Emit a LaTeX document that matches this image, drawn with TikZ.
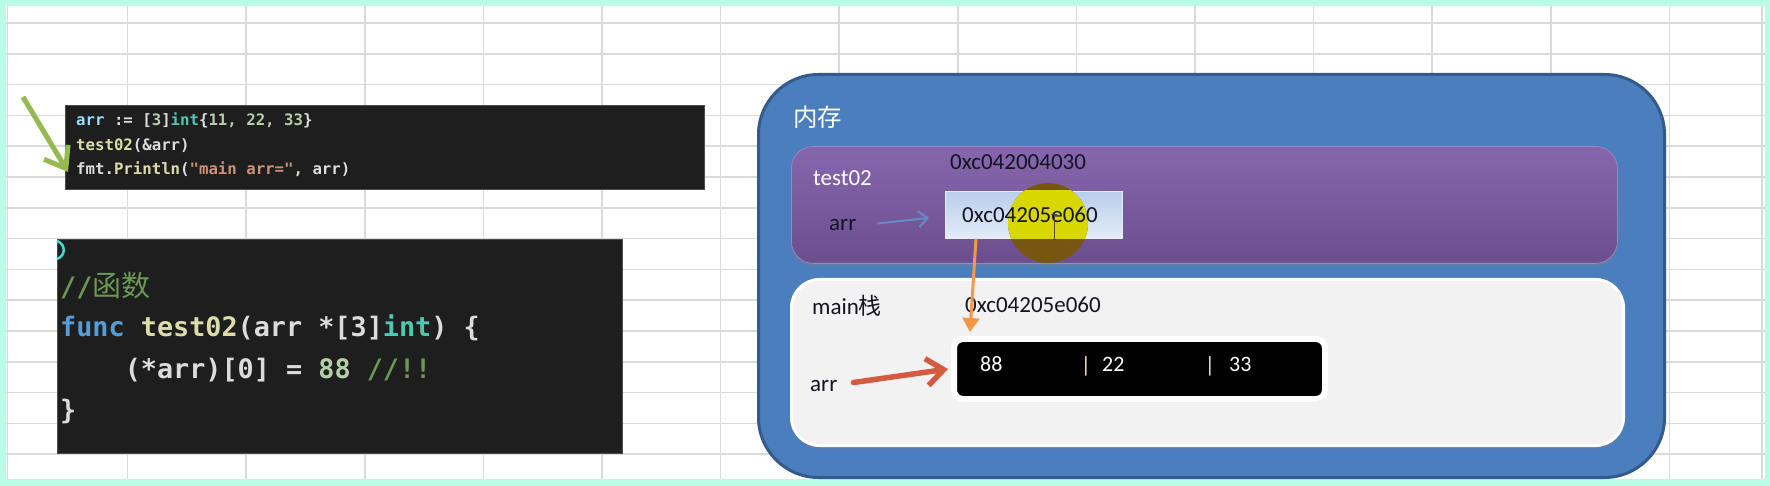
\documentclass[tikz,border=0pt]{standalone}
\usepackage{fontspec}
\setmainfont{Carlito}
\newfontfamily\cjk{Noto Sans CJK SC}
\newfontfamily\codefont{DejaVu Sans Mono}
\usetikzlibrary{arrows.meta,shadows,calc}

\definecolor{cyanbg}{RGB}{186,252,230}
\definecolor{gridc}{RGB}{218,218,218}
\definecolor{codebg}{RGB}{30,30,30}
\definecolor{codeedge}{RGB}{75,75,75}
\definecolor{cwhite}{RGB}{220,220,220}
\definecolor{cvar}{RGB}{156,220,254}
\definecolor{cfun}{RGB}{220,220,170}
\definecolor{ctype}{RGB}{78,201,176}
\definecolor{cnum}{RGB}{181,206,168}
\definecolor{cstr}{RGB}{206,145,120}
\definecolor{ccom}{RGB}{106,153,85}
\definecolor{ckey}{RGB}{86,156,214}
\definecolor{memblue}{RGB}{74,126,188}
\definecolor{memborder}{RGB}{52,90,140}
\definecolor{purtop}{RGB}{134,102,174}
\definecolor{purbot}{RGB}{108,78,142}
\definecolor{lbtop}{RGB}{184,206,236}
\definecolor{lbbot}{RGB}{228,236,247}
\definecolor{stackbg}{RGB}{242,242,242}
\definecolor{arrowblue}{RGB}{100,140,200}
\definecolor{arroworange}{RGB}{247,150,70}
\definecolor{arrowred}{RGB}{212,90,66}
\definecolor{arrowgreen}{RGB}{150,185,80}
\definecolor{darktext}{RGB}{20,20,35}
\definecolor{hlyellow}{RGB}{216,216,0}
\definecolor{hlbrown}{RGB}{118,86,16}
\definecolor{sepc}{RGB}{245,228,205}
\definecolor{cursorc}{RGB}{64,220,210}

\tikzset{
  gridline/.style={draw=gridc, line width=1.5pt},
  codebox/.style={fill=codebg, draw=codeedge, line width=1pt, inner sep=0pt, anchor=north west},
  codeA/.style={anchor=base west, inner sep=0pt, font=\codefont\bfseries\fontsize{15.7pt}{24pt}\selectfont},
  codeB/.style={anchor=base west, inner sep=0pt, font=\codefont\bfseries\fontsize{26.8pt}{32pt}\selectfont},
  membox/.style={fill=memblue, draw=memborder, line width=3pt, rounded corners=60pt, inner sep=0pt, anchor=north west},
  purbox/.style={top color=purtop, bottom color=purbot, draw=purtop!80!white, line width=0.8pt, rounded corners=22pt, inner sep=0pt, anchor=north west,
     drop shadow={opacity=0.35, shadow xshift=0pt, shadow yshift=-3pt}},
  lightbox/.style={top color=lbtop, bottom color=lbbot, draw=lbbot, line width=0.8pt, inner sep=0pt, anchor=north west},
  stackbox/.style={fill=stackbg, draw=white, line width=3pt, rounded corners=28pt, inner sep=0pt, anchor=north west,
     drop shadow={opacity=0.35, shadow xshift=0pt, shadow yshift=-3pt}},
  arraybox/.style={fill=black, draw=white, line width=6pt, rounded corners=9pt, inner sep=0pt, anchor=north west,
     drop shadow={opacity=0.3, shadow xshift=1pt, shadow yshift=-3pt}},
  lbl/.style={anchor=base west, inner sep=0pt, font=\fontsize{23pt}{27pt}\selectfont},
  arrtxt/.style={anchor=base west, inner sep=0pt, text=white, font=\fontsize{22pt}{26pt}\selectfont},
  septxt/.style={anchor=base, inner sep=0pt, text=sepc, font=\fontsize{22pt}{26pt}\selectfont},
  bluearrow/.style={draw=arrowblue, line width=2pt, -{Straight Barb[length=9pt,width=16pt]}},
  orangearrow/.style={draw=arroworange, line width=3pt, -{Triangle[length=14pt,width=17pt]}},
  redarrow/.style={draw=arrowred, line width=5.5pt, line cap=round, -{Straight Barb[length=17pt,width=27pt]}},
  greenarrow/.style={draw=arrowgreen, line width=5pt, -{Straight Barb[length=19pt,width=28pt]}},
}

\begin{document}
\begin{tikzpicture}[x=1pt,y=-1pt]
\useasboundingbox (0,0) rectangle (1770,486);
% background and spreadsheet grid
\fill[cyanbg] (0,0) rectangle (1770,486);
\fill[white] (6,6) rectangle (1765,479);
\draw[gridline] (7.5,6) -- (7.5,479);
\foreach \i in {1,...,14} \draw[gridline] ({9+118.6*\i},6) -- ({9+118.6*\i},479);
\draw[gridline] (1762,6) -- (1762,479);
\foreach \j in {0,...,14} \draw[gridline] (6,{23+30.8*\j}) -- (1765,{23+30.8*\j});

% code block 1
\node[codebox, minimum width=639pt, minimum height=84pt] (code1) at (65,105) {};
\node[codeA] (c1a) at (76,126) {\textcolor{cvar}{arr} \textcolor{cwhite}{:=} \textcolor{cwhite}{[}\textcolor{cnum}{3}\textcolor{cwhite}{]}\textcolor{ctype}{int}\textcolor{cwhite}{\{}\textcolor{cnum}{11, 22, 33}\textcolor{cwhite}{\}}};
\node[codeA] (c1b) at (76,151) {\textcolor{cfun}{test02}\textcolor{cwhite}{(\&arr)}};
\node[codeA] (c1c) at (76,175) {\textcolor{cwhite}{fmt.}\textcolor{cfun}{Println}\textcolor{cwhite}{(}\textcolor{cstr}{"main arr="}\textcolor{cwhite}{, arr)}};
\coordinate (gtail) at (23,97);
\draw[greenarrow] (gtail) -- ([xshift=-8pt,yshift=3pt]c1c.base west);

% code block 2
\node[codebox, minimum width=565pt, minimum height=214pt] (code2) at (57,239) {};
\draw[cursorc, line width=2.5pt] (57,241) .. controls (66,244) and (66,256) .. (57,259);
\node[codeB] (c2a) at (60,297) {\textcolor{ccom}{//{\cjk\mdseries\fontsize{29pt}{29pt}\selectfont 函数}}};
\node[codeB] (c2b) at (60,337) {\textcolor{ckey}{func} \textcolor{cfun}{test02}\textcolor{cwhite}{(arr *[3]}\textcolor{ctype}{int}\textcolor{cwhite}{) \{}};
\node[codeB] (c2c) at (124.6,378) {\textcolor{cwhite}{(*arr)[0] =} \textcolor{cnum}{88} \textcolor{ccom}{//!!}};
\node[codeB] (c2d) at (60,419) {\textcolor{cwhite}{\}}};

% memory diagram
\node[membox, minimum width=906pt, minimum height=403pt] (mem) at (757,73) {};
\node[lbl, text=white, font=\cjk\fontsize{24.5pt}{28pt}\selectfont] (memlbl) at (793,127) {内存};

\node[purbox, minimum width=826pt, minimum height=117pt] (test02box) at (791,146) {};
\node[lbl, text=white] (testlbl) at (813,186) {test02};
\node[lbl, text=darktext] (taddr) at (950,170) {0xc042004030};
\node[lightbox, minimum width=177pt, minimum height=47pt] (lbox) at (945,191) {};
\fill[hlbrown] (1048,223) circle (40pt);
\begin{scope}
  \clip (lbox.south west) rectangle (lbox.north east);
  \fill[hlyellow] (1048,223) circle (40pt);
\end{scope}
\node[lbl, text=darktext] (pval) at (962,223) {0xc04205e060};
\draw[gray!60!black, line width=1pt] (1054,215) -- (1054,240) (1051,215) -- (1057,215) (1051,240) -- (1057,240);
\node[lbl, text=darktext] (tarr) at (829,231) {arr};
\draw[bluearrow] ([xshift=21pt,yshift=2pt]tarr.east) -- ([xshift=-16pt,yshift=-3pt]lbox.west);

\node[stackbox, minimum width=832pt, minimum height=166pt] (mainbox) at (790,278) {};
\node[lbl, text=darktext] (mainlbl) at (812,315) {main{\cjk 栈}};
\node[lbl, text=darktext] (maddr) at (965,313) {0xc04205e060};
\node[arraybox, minimum width=371pt, minimum height=60pt] (arrbox) at (951,336) {};
\node[arrtxt] (v1) at (980,371) {88};
\node[septxt] (s1) at (1086,373) {|};
\node[arrtxt] (v2) at (1102,371) {22};
\node[septxt] (s2) at (1210,373) {|};
\node[arrtxt] (v3) at (1229,371) {33};
\node[lbl, text=darktext] (marr) at (810,391) {arr};
\draw[redarrow] ([xshift=16pt,yshift=3pt]marr.east) -- ([xshift=-3pt]arrbox.west);
\draw[orangearrow] ([xshift=31pt]lbox.south west) -- ([xshift=19pt,yshift=4pt]arrbox.north west);
\end{tikzpicture}
\end{document}
